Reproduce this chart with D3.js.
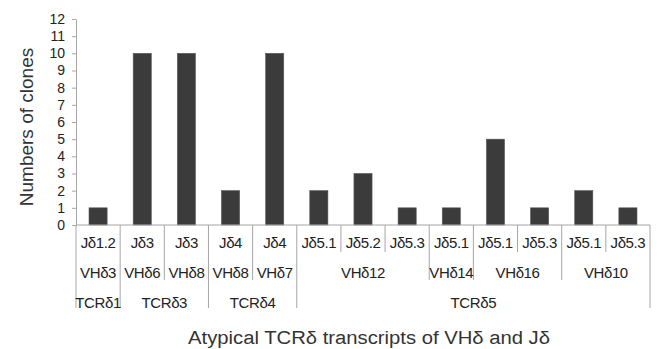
<!DOCTYPE html>
<html>
<head>
<meta charset="utf-8">
<script src="https://cdn.jsdelivr.net/npm/d3@7"></script>
<style>
  body { margin: 0; background: #fff; }
  text { font-family: "Liberation Sans", Arial, sans-serif; }
</style>
</head>
<body>
<div id="chart"></div>
<script>
let jLabels   = ["Jδ1.2", "Jδ3", "Jδ3", "Jδ4", "Jδ4", "Jδ5.1", "Jδ5.2", "Jδ5.3", "Jδ5.1", "Jδ5.1", "Jδ5.3", "Jδ5.1", "Jδ5.3"];
let vhLabels  = ["VHδ3", "VHδ6", "VHδ8", "VHδ8", "VHδ7", "VHδ12", "VHδ12", "VHδ12", "VHδ14", "VHδ16", "VHδ16", "VHδ10", "VHδ10"];
let tcrLabels = ["TCRδ1", "TCRδ3", "TCRδ3", "TCRδ4", "TCRδ4", "TCRδ5", "TCRδ5", "TCRδ5", "TCRδ5", "TCRδ5", "TCRδ5", "TCRδ5", "TCRδ5"];
let clones    = [1, 10, 10, 2, 10, 2, 3, 1, 1, 5, 1, 2, 1];
let yTicks    = [0, 1, 2, 3, 4, 5, 6, 7, 8, 9, 10, 11, 12];

let width  = 657,
    height = 349;

let margin = { top: 19, right: 7, bottom: 124, left: 76 };

let innerW = width - margin.left - margin.right,
    innerH = height - margin.top - margin.bottom;

let lineColor = "#a6a6a6";

let svg = d3.select("#chart")
  .append("svg")
    .attr("width", width)
    .attr("height", height);

let g = svg.append("g")
  .attr("transform", translate(margin.left, margin.top));

let idx = d3.range(clones.length);

let x = d3.scaleBand()
  .domain(idx)
  .range([0, innerW])
  .padding(0);

let y = d3.scaleLinear()
  .domain([0, 12])
  .range([innerH, 0]);

// bars
let barFrac = 0.41;
g.selectAll("rect.bar")
  .data(idx)
  .enter().append("rect")
    .attr("class", "bar")
    .attr("x", i => x(i) + x.bandwidth() * (1 - barFrac) / 2)
    .attr("width", x.bandwidth() * barFrac)
    .attr("y", i => y(clones[i]))
    .attr("height", i => y(0) - y(clones[i]))
    .attr("fill", "#3b3b3b")
    .attr("stroke", "#555")
    .attr("stroke-width", 0.6);

// y axis
let yAxis = g.append("g")
  .call(d3.axisLeft(y).tickValues(yTicks).tickSize(4).tickSizeOuter(0).tickPadding(7));
yAxis.select(".domain").attr("stroke", lineColor);
yAxis.selectAll(".tick line").attr("stroke", lineColor);
yAxis.selectAll(".tick text")
  .attr("fill", "#222")
  .style("font-size", "14px");

// x axis baseline
g.append("line")
  .attr("x1", 0).attr("x2", innerW)
  .attr("y1", y(0)).attr("y2", y(0))
  .attr("stroke", lineColor);

// multi-level category table
let row1 = 18, row2 = 48, row3 = 78;
let end1 = 27, end2 = 55, end3 = 83;

function groupKey(i) { return tcrLabels[i] + "|" + vhLabels[i]; }

let boundaries = d3.range(clones.length + 1).map(function(b) {
  let len;
  if (b === 0 || b === clones.length || tcrLabels[b - 1] !== tcrLabels[b]) len = end3;
  else if (groupKey(b - 1) !== groupKey(b)) len = end2;
  else len = end1;
  return { pos: b === clones.length ? innerW : x(b), len: len };
});

g.selectAll("line.sep")
  .data(boundaries)
  .enter().append("line")
    .attr("class", "sep")
    .attr("x1", d => d.pos).attr("x2", d => d.pos)
    .attr("y1", y(0)).attr("y2", d => y(0) + d.len)
    .attr("stroke", lineColor);

function runs(keyFn, labelFn) {
  let out = [];
  idx.forEach(function(i) {
    let last = out[out.length - 1];
    if (last && last.key === keyFn(i)) last.end = i;
    else out.push({ key: keyFn(i), label: labelFn(i), start: i, end: i });
  });
  return out;
}

let rows = [
  { items: runs(i => i, i => jLabels[i]), dy: row1 },
  { items: runs(groupKey, i => vhLabels[i]), dy: row2 },
  { items: runs(i => tcrLabels[i], i => tcrLabels[i]), dy: row3 }
];

rows.forEach(function(r) {
  g.selectAll(null)
    .data(r.items)
    .enter().append("text")
      .attr("x", d => (x(d.start) + x(d.end) + x.bandwidth()) / 2)
      .attr("y", y(0) + r.dy)
      .attr("dy", "0.35em")
      .attr("text-anchor", "middle")
      .attr("fill", "#222")
      .style("font-size", "15px")
      .style("letter-spacing", "-0.4px")
      .text(d => d.label);
});

// axis titles
svg.append("text")
  .attr("transform", translate(33, 127) + " rotate(-90)")
  .attr("text-anchor", "middle")
  .attr("fill", "#333")
  .style("font-size", "19px")
  .text("Numbers of clones");

svg.append("text")
  .attr("x", 369)
  .attr("y", 344)
  .attr("text-anchor", "middle")
  .attr("textLength", 362)
  .attr("lengthAdjust", "spacingAndGlyphs")
  .attr("fill", "#333")
  .style("font-size", "18px")
  .text("Atypical TCRδ transcripts of VHδ and Jδ");

function translate(x, y = 0) {
  return "translate(" + x + "," + y + ")";
}
</script>
</body>
</html>
